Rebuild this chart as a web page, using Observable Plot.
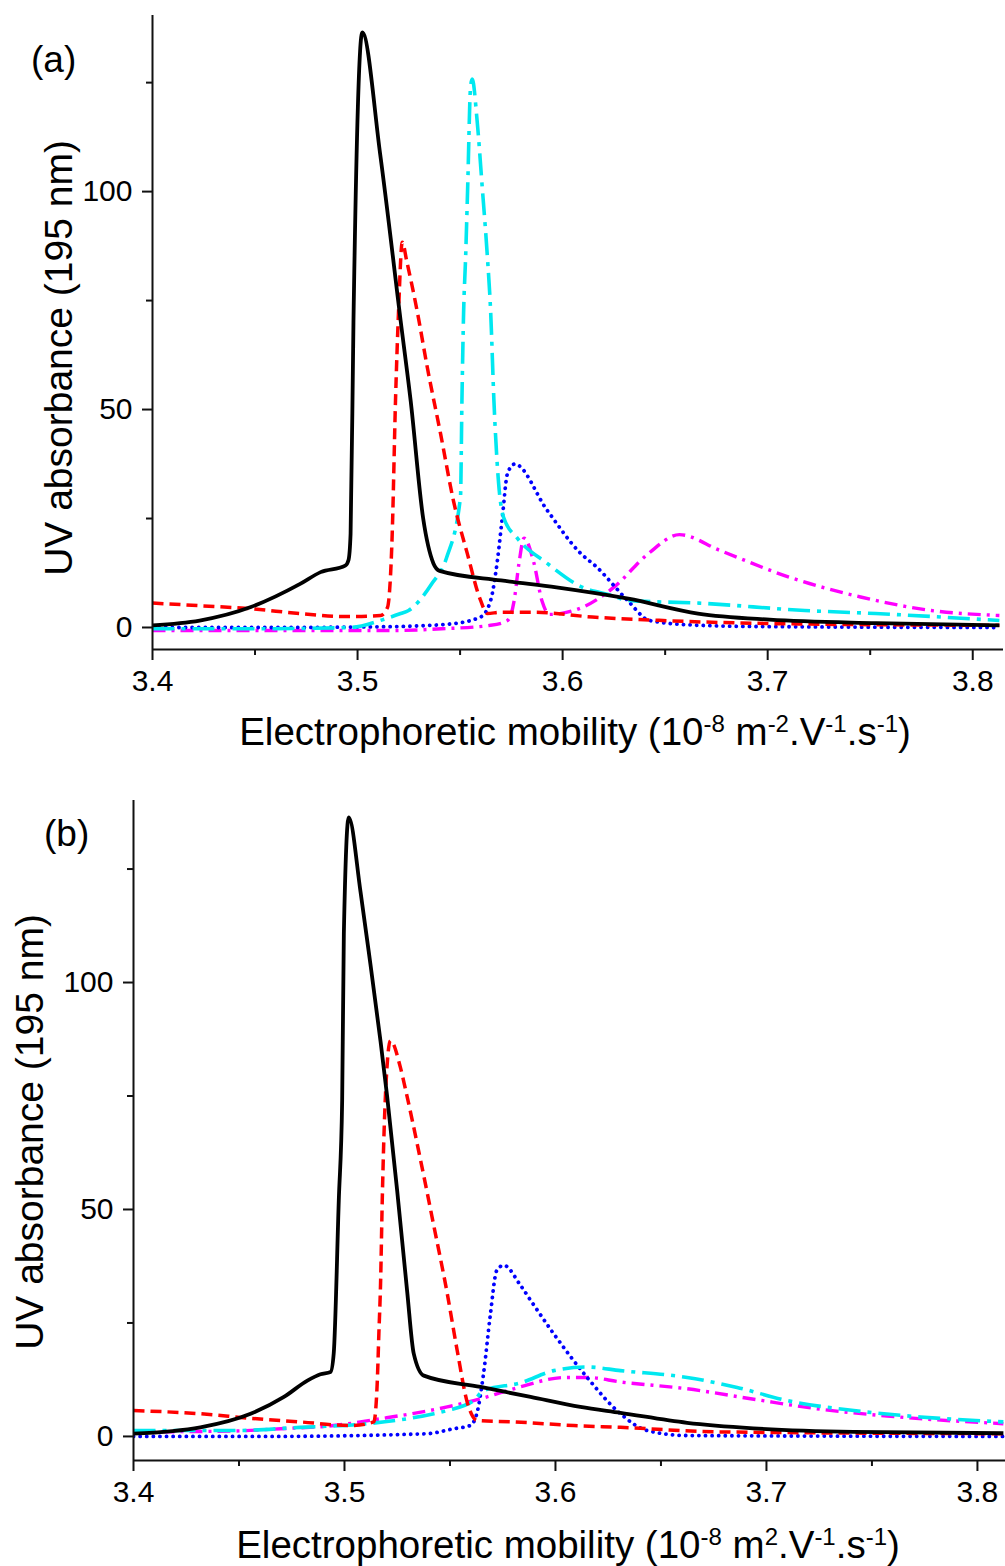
<!DOCTYPE html>
<html>
<head>
<meta charset="utf-8">
<script src="https://cdn.jsdelivr.net/npm/d3@7"></script>
<script src="https://cdn.jsdelivr.net/npm/@observablehq/plot@0.6"></script>
<style>
  body { margin: 0; background: #fff; }
  #wrap { position: relative; width: 1005px; height: 1566px; overflow: hidden; font-family: "Liberation Sans", Arial, sans-serif; }
  #wrap svg { position: absolute; left: 0; }
</style>
</head>
<body>
<div id="wrap"></div>
<script>
// ---------- tick values ----------
const xTicks = [3.4, 3.5, 3.6, 3.7, 3.8];
const xMinorTicks = [3.45, 3.55, 3.65, 3.75];
const yTicks = [0, 50, 100];
const yMinorTicks = [25, 75, 125];

// ---------- series names / colours / dashes ----------
const seriesNames = ["black", "red", "cyan", "blue", "magenta"];
const seriesColors = ["#000000", "#ff0000", "#00e8f0", "#0000ff", "#ff00ff"];
const seriesDash = ["none", "11 6", "22 7 4 7", "0.1 6.5", "13 6 3 6"];
const seriesWidth = [3.8, 3.5, 3.6, 3.8, 3.4];

// ---------- panel (a) data: mobility (1e-8 m2/V/s) and UV absorbance ----------
const aBlackMu  = [3.400, 3.423, 3.448, 3.472, 3.482, 3.494, 3.4956, 3.4966, 3.498, 3.5023, 3.511, 3.521, 3.5259, 3.532, 3.537, 3.540, 3.570, 3.597, 3.632, 3.666, 3.701, 3.753, 3.813];
const aBlackAbs = [0.5, 1.6, 4.7, 10.0, 12.7, 14.2, 15.5, 21.5, 70, 136.5, 108.7, 70.4, 52, 25, 14.7, 13.0, 10.8, 9.2, 6.6, 3.2, 1.8, 1.0, 0.5];

const aRedMu  = [3.400, 3.423, 3.448, 3.472, 3.495, 3.5112, 3.5146, 3.5169, 3.5185, 3.520, 3.5218, 3.524, 3.5291, 3.534, 3.5405, 3.5468, 3.5535, 3.560, 3.5633, 3.5698, 3.586, 3.6144, 3.649, 3.701, 3.813];
const aRedAbs = [5.6, 5.0, 4.3, 3.2, 2.5, 2.75, 4.6, 21.5, 52, 72.7, 88.4, 84, 72.5, 59.7, 44.4, 29, 17, 6.2, 3.2, 3.5, 3.5, 2.4, 1.6, 0.9, 0.5];

const aCyanMu  = [3.400, 3.450, 3.4965, 3.511, 3.521, 3.5249, 3.5361, 3.5434, 3.5502, 3.5509, 3.5517, 3.5527, 3.5537, 3.5551, 3.5559, 3.5583, 3.5608, 3.5632, 3.5649, 3.5665, 3.5688, 3.5712, 3.5779, 3.5925, 3.6088, 3.625, 3.6317, 3.6663, 3.7181, 3.7526, 3.813];
const aCyanAbs = [-0.3, -0.3, 0, 1.6, 3.2, 3.9, 10, 16, 30, 52, 72, 85, 101, 124, 125.8, 116.3, 101, 85.8, 72.5, 52, 33, 25.3, 20.5, 14.7, 9.4, 7.2, 6.2, 5.6, 3.9, 3.2, 1.6];

const aBlueMu  = [3.400, 3.4567, 3.5165, 3.5449, 3.560, 3.5649, 3.5682, 3.5706, 3.5731, 3.5766, 3.5923, 3.6088, 3.6163, 3.6317, 3.6424, 3.6663, 3.700, 3.813];
const aBlueAbs = [0, 0, 0.2, 0.8, 2.4, 6.2, 15.4, 25.3, 35.3, 37.5, 27, 17, 14, 6.2, 1.6, 0.5, 0.2, 0];

const aMagentaMu  = [3.400, 3.5165, 3.541, 3.5649, 3.5731, 3.5763, 3.5788, 3.5812, 3.5859, 3.590, 3.5935, 3.610, 3.6249, 3.6417, 3.657, 3.6766, 3.7108, 3.7453, 3.7798, 3.813];
const aMagentaAbs = [-0.7, -0.7, -0.3, 0.5, 1.6, 6, 15, 20.5, 15, 6, 3.0, 4.7, 9.2, 16.9, 21.3, 17.7, 11.5, 7.0, 3.9, 2.75];

// ---------- panel (b) data ----------
const bBlackMu  = [3.400, 3.4317, 3.4555, 3.4713, 3.4824, 3.4886, 3.4934, 3.4949, 3.4973, 3.4989, 3.4997, 3.502, 3.5076, 3.5123, 3.5171, 3.5202, 3.525, 3.5297, 3.5328, 3.5376, 3.5645, 3.5882, 3.6118, 3.6308, 3.6624, 3.6938, 3.7412, 3.8123];
const bBlackAbs = [0.6, 2.0, 5.0, 8.7, 12.3, 13.7, 14.2, 18.3, 52, 74, 110.8, 136.4, 120, 104, 87, 75, 54, 32, 18.3, 13.4, 10.9, 8.7, 6.5, 5.2, 3.0, 1.8, 1.0, 0.7];

const bRedMu  = [3.400, 3.4317, 3.4555, 3.4791, 3.5028, 3.5139, 3.5155, 3.5163, 3.5171, 3.5179, 3.5194, 3.5218, 3.5265, 3.5289, 3.536, 3.5423, 3.5487, 3.5534, 3.5582, 3.5629, 3.5802, 3.6087, 3.6308, 3.6782, 3.8123];
const bRedAbs = [5.7, 5.0, 4.0, 3.2, 2.4, 3.2, 11.6, 22.7, 33.7, 52, 75, 87.2, 81.3, 76.5, 61, 46.5, 31.5, 19, 7.5, 3.5, 3.2, 2.4, 2.0, 1.0, 0.6];

const bCyanMu  = [3.400, 3.4474, 3.4791, 3.5107, 3.5424, 3.5487, 3.5613, 3.5659, 3.5834, 3.5992, 3.615, 3.6308, 3.6624, 3.6861, 3.7098, 3.7414, 3.773, 3.8123];
const bCyanAbs = [1.3, 1.3, 2.0, 2.8, 5.0, 5.7, 7.9, 10.1, 11.8, 14.5, 15.3, 14.5, 13.0, 10.8, 7.9, 5.7, 4.3, 3.2];

const bBlueMu  = [3.400, 3.4616, 3.5391, 3.5517, 3.5596, 3.5627, 3.5659, 3.569, 3.5722, 3.5755, 3.5834, 3.5882, 3.5992, 3.615, 3.6308, 3.6434, 3.6624, 3.8123];
const bBlueAbs = [0, 0, 0.6, 1.7, 2.4, 5.0, 13.8, 26.3, 36.6, 37.7, 33.3, 30, 22.6, 13, 5.0, 1.3, 0.2, 0];

const bMagentaMu  = [3.400, 3.4474, 3.4697, 3.4948, 3.5171, 3.5487, 3.5645, 3.5802, 3.605, 3.615, 3.6308, 3.6624, 3.694, 3.7256, 3.7572, 3.8123];
const bMagentaAbs = [1.0, 1.2, 1.7, 2.4, 3.9, 6.5, 8.3, 10.5, 13.0, 13.0, 12.0, 10.5, 8.2, 6.0, 4.5, 2.8];

// ---------- axis domains ----------
const aXDomain = [3.4, 3.815];
const aYDomain = [-5.05, 140.4];
const bXDomain = [3.4, 3.8133];
const bYDomain = [-5.3, 140.1];

function rows(mu, abs) { return mu.map((m, i) => ({mu: m, abs: abs[i]})); }

const FONT = '"Liberation Sans", Arial, sans-serif';

function panel(series, xDomain, yDomain, dims) {
  const lineMarks = series.map((s, i) => Plot.line(rows(s[0], s[1]), {
    x: "mu", y: "abs",
    stroke: seriesColors[i],
    strokeWidth: seriesWidth[i],
    strokeDasharray: seriesDash[i],
    strokeLinecap: i === 3 ? "round" : "butt",
    strokeLinejoin: "round",
    curve: "monotone-x",
    clip: true
  }));
  const svg = Plot.plot({
    width: 1005,
    height: dims.height,
    marginLeft: dims.ml, marginRight: dims.mr, marginTop: dims.mt, marginBottom: dims.mb,
    style: {fontFamily: FONT, fontSize: "30px", color: "#000", background: "transparent"},
    x: {domain: xDomain, axis: null},
    y: {domain: yDomain, axis: null},
    marks: [
      // draw order: magenta, blue, cyan, red, black on top
      lineMarks[4], lineMarks[3], lineMarks[2], lineMarks[1], lineMarks[0],
      Plot.ruleX([xDomain[0]], {stroke: "#111", strokeWidth: 2}),
      Plot.ruleY([yDomain[0]], {stroke: "#111", strokeWidth: 2}),
      Plot.axisX(xTicks, {tickSize: 11, tickPadding: 9, tickFormat: d => d.toFixed(1), stroke: "#111", strokeWidth: 2, label: null}),
      Plot.axisX(xMinorTicks, {tickSize: 6, text: null, stroke: "#111", strokeWidth: 2, label: null}),
      Plot.axisY(yTicks, {tickSize: 10, tickPadding: 10, tickFormat: d => String(d), stroke: "#111", strokeWidth: 2, label: null}),
      Plot.axisY(yMinorTicks, {tickSize: 6, text: null, stroke: "#111", strokeWidth: 2, label: null})
    ]
  });
  d3.select(svg).selectAll("text").attr("font-size", 30).attr("fill", "#000");
  return svg;
}

function addTitles(svg, t) {
  const s = d3.select(svg);
  s.attr("font-family", FONT);
  // panel letter
  s.append("text").attr("x", t.letterX).attr("y", t.letterY)
    .attr("text-anchor", "start")
    .attr("font-size", 37).attr("fill", "#000").text(t.letter);
  // y title
  s.append("text")
    .attr("transform", `translate(${t.yTitleX},${t.yTitleY}) rotate(-90)`)
    .attr("text-anchor", "middle").attr("dominant-baseline", "central")
    .attr("font-size", 39).attr("fill", "#000").text("UV absorbance (195 nm)");
  // x title with superscripts
  const xt = s.append("text").attr("x", t.xTitleX).attr("y", t.xTitleY)
    .attr("text-anchor", "middle").attr("font-size", 38.5).attr("fill", "#000");
  t.xParts.forEach(p => {
    const ts = xt.append("tspan").text(p[0]);
    if (p[1]) ts.attr("font-size", 24).attr("baseline-shift", "55%");
  });
}

const wrap = document.getElementById("wrap");

const svgA = panel(
  [[aBlackMu, aBlackAbs], [aRedMu, aRedAbs], [aCyanMu, aCyanAbs], [aBlueMu, aBlueAbs], [aMagentaMu, aMagentaAbs]],
  aXDomain, aYDomain, {height: 770, ml: 152, mr: 2, mt: 15, mb: 121});
svgA.style.top = "0px";
wrap.appendChild(svgA);
addTitles(svgA, {
  letter: "(a)", letterX: 31, letterY: 72,
  yTitleX: 58, yTitleY: 358,
  xTitleX: 575, xTitleY: 745,
  xParts: [["Electrophoretic mobility (10", false], ["-8", true], [" m", false], ["-2", true], [".V", false], ["-1", true], [".s", false], ["-1", true], [")", false]]
});

const svgB = panel(
  [[bBlackMu, bBlackAbs], [bRedMu, bRedAbs], [bCyanMu, bCyanAbs], [bBlueMu, bBlueAbs], [bMagentaMu, bMagentaAbs]],
  bXDomain, bYDomain, {height: 786, ml: 133, mr: 0, mt: 20, mb: 106});
svgB.style.top = "780px";
wrap.appendChild(svgB);
addTitles(svgB, {
  letter: "(b)", letterX: 44, letterY: 66,
  yTitleX: 29, yTitleY: 352,
  xTitleX: 568, xTitleY: 778,
  xParts: [["Electrophoretic mobility (10", false], ["-8", true], [" m", false], ["2", true], [".V", false], ["-1", true], [".s", false], ["-1", true], [")", false]]
});
</script>
</body>
</html>
